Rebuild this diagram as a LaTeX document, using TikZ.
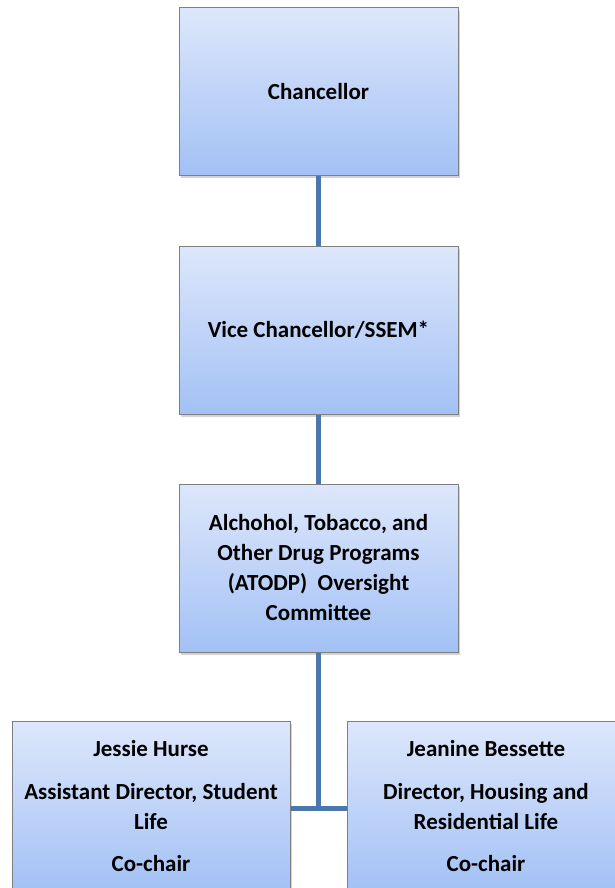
\documentclass[tikz,border=0pt]{standalone}
\usepackage{fontspec}
\setmainfont{Carlito}
\usetikzlibrary{shadows}
\definecolor{boxtop}{HTML}{DDE7FB}
\definecolor{boxbot}{HTML}{A3C1F5}
\definecolor{boxline}{HTML}{7F7F7F}
\definecolor{conn}{HTML}{4A78AD}
\tikzset{
  orgbox/.style={rectangle, draw=boxline, line width=1pt, top color=boxtop, bottom color=boxbot,
    drop shadow={shadow xshift=1.5pt, shadow yshift=-3pt, opacity=0.35},
    minimum width=279pt, minimum height=167pt, inner sep=0pt,
    align=center, font=\fontsize{23}{30}\selectfont\bfseries},
  link/.style={draw=conn, line width=5pt}
}
\begin{document}
\begin{tikzpicture}[x=1pt,y=-1pt]
\useasboundingbox (0,0) rectangle (615,888);
\node[orgbox] (chan) at (318.5,91.5) {Chancellor};
\node[orgbox, minimum height=168pt] (vc) at (318.5,330) {Vice Chancellor/SSEM*};
\node[orgbox, minimum height=168pt] (atodp) at (318.5,568) {Alchohol, Tobacco, and\\Other Drug Programs\\(ATODP)~ Oversight\\Committee};
\node[orgbox, minimum width=278pt, minimum height=170pt] (left) at (151,806) {Jessie Hurse\\[13pt]Assistant Director, Student\\Life\\[12pt]Co-chair};
\node[orgbox, minimum width=278pt, minimum height=170pt] (right) at (486,806) {Jeanine Bessette\\[13pt]Director, Housing and\\Residential Life\\[12pt]Co-chair};
\draw[link] (chan.south) -- (vc.north);
\draw[link] (vc.south) -- (atodp.north);
\coordinate (junc) at (atodp.south |- 0,808);
\draw[link] (atodp.south) -- (junc);
\draw[link] (left.east |- junc) -- (right.west |- junc);
\end{tikzpicture}
\end{document}
